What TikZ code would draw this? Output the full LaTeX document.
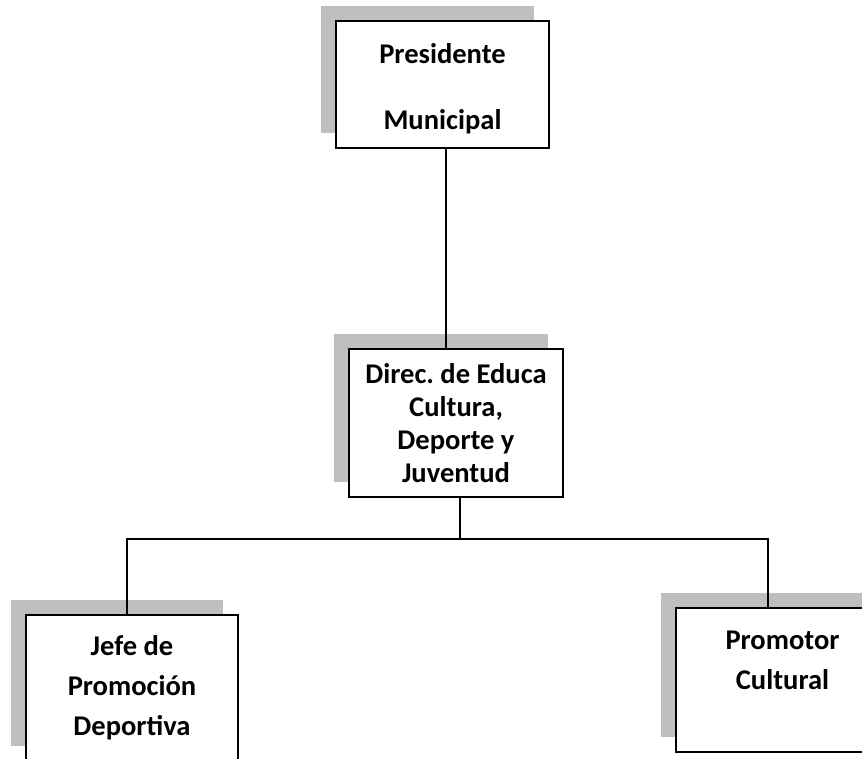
\documentclass[tikz,border=0pt]{standalone}
\usepackage{fontspec}
\setmainfont{Carlito}
\usetikzlibrary{shadows}
\definecolor{boxshade}{RGB}{191,191,191}
\frenchspacing
\begin{document}
\begin{tikzpicture}[x=0.75pt,y=-0.75pt,
    orgbox/.style={draw,fill=white,line width=1.1pt,align=center,inner sep=0pt,
      font=\bfseries\fontsize{21.4}{24.75}\selectfont,
      drop shadow={shadow xshift=-11.6pt,shadow yshift=11.6pt,fill=boxshade,opacity=1}},
    loose/.style={font=\bfseries\fontsize{21.4}{30}\selectfont},
    link/.style={line width=1.1pt}]
  \path[use as bounding box,clip] (0,0) rectangle (862,758);
  \node[orgbox,minimum width=159.75pt,minimum height=95.25pt] (pres) at (442.5,84.5)
    {\mbox{}\\[-4pt]Presidente\\[24.75pt]Municipal};
  \node[orgbox,minimum width=160.5pt,minimum height=111pt] (direc) at (456,423)
    {Direc. de Educa\\Cultura,\\Deporte y\\Juventud};
  \node[orgbox,loose,minimum width=159pt,minimum height=109.5pt] (jefe) at (132,688)
    {Jefe de\\Promoción\\Deportiva};
  \node[orgbox,loose,minimum width=159.75pt,minimum height=108pt] (promotor) at (782.5,680)
    {Promotor\\Cultural\\\mbox{}};
  \coordinate (top) at (446,0);
  \coordinate (bus) at (460,539);
  \coordinate (busl) at (127,539);
  \coordinate (busr) at (768,539);
  \draw[link] (pres.south -| top) -- (direc.north -| top);
  \draw[link] (direc.south -| bus) -- (bus);
  \draw[link] (jefe.north -| busl) -- (busl) -- (busr) -- (promotor.north -| busr);
\end{tikzpicture}
\end{document}
